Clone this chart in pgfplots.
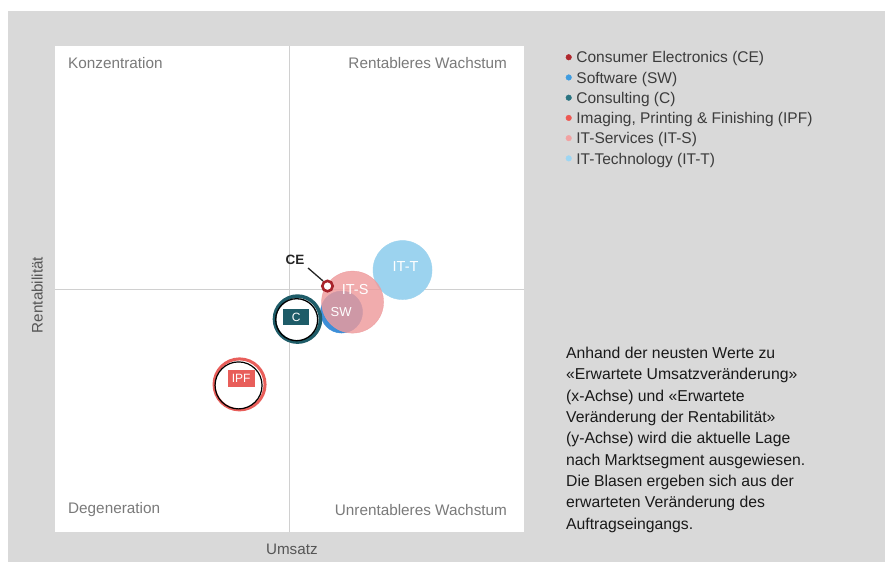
\documentclass[border=0pt]{standalone}
\usepackage{fontspec}
\setmainfont{Liberation Sans}
\usepackage{pgfplots}
\pgfplotsset{compat=1.18}
\definecolor{bggray}{HTML}{D9D9D9}
\definecolor{gridgray}{HTML}{D0D0D0}
\definecolor{qgray}{HTML}{7A7A7A}
\definecolor{labgray}{HTML}{555555}
\definecolor{legtext}{HTML}{3C3C3C}
\definecolor{cecol}{HTML}{A8232B}
\definecolor{swcol}{HTML}{3D8FD8}
\definecolor{ccol}{HTML}{1E5C68}
\definecolor{ipfcol}{HTML}{E85E5A}
\definecolor{itscol}{HTML}{EE9A9C}
\definecolor{ittcol}{HTML}{9CD3EF}
\definecolor{legce}{HTML}{B0282E}
\definecolor{legsw}{HTML}{3F9CE0}
\definecolor{legc}{HTML}{2A7380}
\definecolor{legipf}{HTML}{EE5852}
\definecolor{legits}{HTML}{F2A2A2}
\definecolor{legitt}{HTML}{9DD6F3}
\newcommand{\lst}{\rule[-3.5bp]{0pt}{14.5bp}}

\begin{document}
\begin{tikzpicture}[x=1bp,y=1bp]
\fill[white] (0,0) rectangle (885,562);
\fill[bggray] (8,0) rectangle (885,551);
\begin{axis}[
    at={(55bp,30bp)}, anchor=south west,
    scale only axis, width=469bp, height=485.5bp,
    xmin=-10, xmax=10, ymin=-10, ymax=10,
    axis background/.style={fill=white},
    axis line style={draw=none},
    xtick={0}, ytick={0}, xticklabels={}, yticklabels={},
    major tick length=0pt,
    grid=major, grid style={line width=1.2bp, color=gridgray},
    clip=false,
    xlabel={Umsatz}, ylabel={Rentabilität},
    xlabel style={at={(axis description cs:0.505,-0.035)}, anchor=center,
        font=\fontsize{15.2bp}{17bp}\selectfont, color=labgray},
    ylabel style={at={(axis description cs:-0.038,0.488)}, anchor=center,
        font=\fontsize{15.2bp}{17bp}\selectfont, color=labgray},
    legend image code/.code={\fill[#1] (0bp,0.8bp) circle (2.8bp);},
    legend cell align=left,
    legend style={at={(axis description cs:1.0885,0.9897)}, anchor=north west,
        draw=none, fill=none, inner sep=0pt, row sep=7.5bp,
        nodes={inner sep=0pt},
        /tikz/every odd column/.append style={column sep=4.7bp},
        font=\fontsize{15.5bp}{18bp}\selectfont, text=legtext},
]
% legend
\addlegendimage{legce}\addlegendentry{\lst Consumer Electronics (CE)}
\addlegendimage{legsw}\addlegendentry{\lst Software (SW)}
\addlegendimage{legc}\addlegendentry{\lst Consulting (C)}
\addlegendimage{legipf}\addlegendentry{\lst Imaging, Printing \& Finishing (IPF)}
\addlegendimage{legits}\addlegendentry{\lst IT-Services (IT-S)}
\addlegendimage{legitt}\addlegendentry{\lst IT-Technology (IT-T)}

% bubbles
\addplot[forget plot, only marks, mark=*, mark size=29.5bp, color=ittcol]
    coordinates {(4.82,0.79)};
\addplot[forget plot, only marks, mark=*, mark size=21bp, color=swcol]
    coordinates {(2.22,-0.94)};
\addplot[forget plot, only marks, mark=*, mark size=31bp, color=itscol,
    mark options={opacity=0.82}] coordinates {(2.69,-0.53)};
\addplot[forget plot, only marks, mark=*, mark size=5.2bp, color=cecol,
    mark options={line width=2.6bp, fill=white}] coordinates {(1.62,0.13)};
\addplot[forget plot, only marks, mark=*, mark size=23bp, color=ccol,
    mark options={line width=3.6bp, fill=white}] coordinates {(0.34,-1.23)};
\addplot[forget plot, only marks, mark=o, mark size=21bp, color=black,
    mark options={line width=1.3bp, xshift=-0.8bp, yshift=-0.6bp}] coordinates {(0.34,-1.23)};
\addplot[forget plot, only marks, mark=*, mark size=25.5bp, color=ipfcol,
    mark options={line width=3bp, fill=white}] coordinates {(-2.13,-3.92)};
\addplot[forget plot, only marks, mark=o, mark size=23.5bp, color=black,
    mark options={line width=1.2bp, xshift=-1bp, yshift=-1bp}] coordinates {(-2.13,-3.92)};

% label anchors
\coordinate (lIT-T) at (axis cs:4.95,0.92);
\coordinate (lIT-S) at (axis cs:2.8,-0.02);
\coordinate (lSW) at (axis cs:2.2,-0.95);
\coordinate (lC) at (axis cs:0.29,-1.15);
\coordinate (lIPF) at (axis cs:-2.06,-3.69);
\coordinate (ceA) at (axis cs:0.79,0.875);
\coordinate (ceB) at (axis cs:1.43,0.34);
\coordinate (lCE) at (axis cs:0.235,1.2);

% quadrant names
\begin{scope}[every node/.style={inner sep=0pt, text=qgray, font=\fontsize{15.3bp}{17bp}\selectfont}]
\node[anchor=west] at (axis description cs:0.0277,0.966) {Konzentration};
\node[anchor=east] at (axis description cs:0.964,0.966) {Rentableres Wachstum};
\node[anchor=west] at (axis description cs:0.0277,0.0453) {Degeneration};
\node[anchor=east] at (axis description cs:0.964,0.0453) {Unrentableres Wachstum};
\end{scope}
\end{axis}

% bubble labels on top of the bubbles
\node[text=white, font=\fontsize{14.5bp}{16bp}\selectfont] at (lIT-T) {IT-T};
\node[text=white, font=\fontsize{14.5bp}{16bp}\selectfont] at (lIT-S) {IT-S};
\node[text=white, font=\fontsize{13bp}{14bp}\selectfont] at (lSW) {SW};
\node[fill=ccol, text=white, inner sep=0pt, minimum width=26bp, minimum height=16bp,
    font=\fontsize{12bp}{13bp}\selectfont] at (lC) {C};
\node[fill=ipfcol, text=white, inner sep=0pt, minimum width=27bp, minimum height=17bp,
    font=\fontsize{12bp}{13bp}\selectfont] at (lIPF) {IPF};
\draw[line width=1.3bp, black!85] (ceA) -- (ceB);
\node[font=\bfseries\fontsize{13.5bp}{15bp}\selectfont, text=black!85] at (lCE) {CE};

\node[anchor=north west, inner sep=0pt, align=left, text=black!90,
    font=\fontsize{15.75bp}{21.3bp}\selectfont] at (566,215) {Anhand der neusten Werte zu\\
«Erwartete Umsatzveränderung»\\
(x-Achse) und «Erwartete\\
Veränderung der Rentabilität»\\
(y-Achse) wird die aktuelle Lage\\
nach Marktsegment ausgewiesen.\\
Die Blasen ergeben sich aus der\\
erwarteten Veränderung des\\
Auftragseingangs.};
\end{tikzpicture}
\end{document}
